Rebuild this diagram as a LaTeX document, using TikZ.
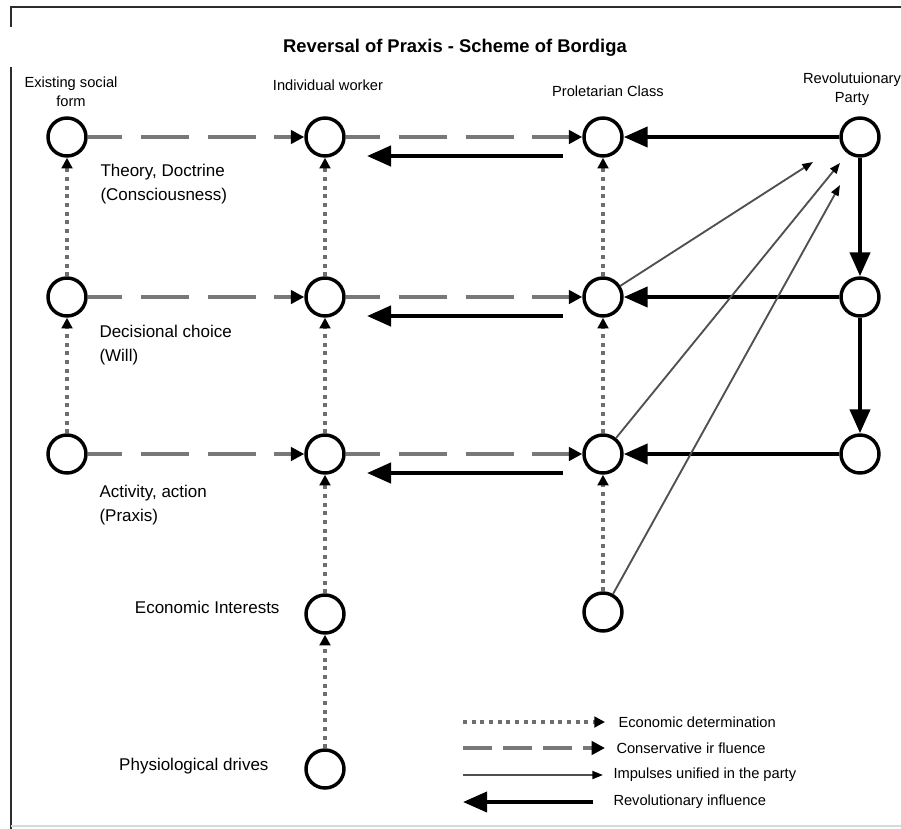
\documentclass[tikz,border=0pt]{standalone}
\usepackage{fontspec}
\setmainfont{Liberation Sans}
\usetikzlibrary{arrows.meta,calc}

\definecolor{econgray}{RGB}{110,110,110}
\definecolor{consgray}{RGB}{120,120,120}
\definecolor{impgray}{RGB}{80,80,80}
\definecolor{framegray}{RGB}{45,45,45}

\tikzset{every picture/.style={line width=0.75pt}}
\tikzset{
  stage/.style={circle, draw=black, line width=2.6pt, minimum size=28.5pt, inner sep=0pt},
  econ/.style={draw=econgray, line width=2.8pt, dash pattern=on 3pt off 3.5pt,
    -{Triangle[length=8pt,width=8pt,color=black]}},
  cons/.style={draw=consgray, line width=2.8pt, dash pattern=on 36pt off 14pt, dash phase=10pt,
    -{Triangle[length=10pt,width=10pt,color=black]}},
  impulse/.style={draw=impgray, line width=1.4pt, -{Triangle[length=8pt,width=6pt,color=black]}},
  revol/.style={draw=black, line width=3.2pt, -{Triangle[length=18pt,width=15pt]}},
  header/.style={font=\fontsize{11}{14.5}\selectfont, align=center, inner sep=0.75pt},
  level/.style={font=\fontsize{12.75}{18}\selectfont, align=left, inner sep=0.75pt},
  legendtext/.style={font=\fontsize{11}{13}\selectfont, anchor=west, inner sep=0.75pt}
}

\begin{document}
\begin{tikzpicture}[x=0.75pt,y=0.75pt,yscale=-1,xscale=1]
\useasboundingbox (0,0) rectangle (901,829);

%Frame
\draw [framegray, line width=2pt] (11,27) -- (11,7) -- (901,7) ;
\draw [framegray, line width=2pt] (11,67) -- (11,829) ;
\draw [black!15, line width=1pt] (11,826) -- (901,826) ;

% Title
\node (title) at (455,48) [font=\fontsize{13.8}{16}\selectfont\bfseries] {Reversal of Praxis - Scheme of Bordiga};

% Column headers
\node (hsf) at (71,92) [header] {Existing social\\form};
\node (hiw) at (328,85) [header] {Individual worker};
\node (hpc) at (608,91) [header] {Proletarian Class};
\node (hrp) at (852,89) [header] {Revolutuionary\\Party};

%Existing social form
\node (sf1) at (67,137) [stage] {};
\node (sf2) at (67,297) [stage] {};
\node (sf3) at (67,454) [stage] {};
%Individual worker
\node (iw1) at (325,137) [stage] {};
\node (iw2) at (325,297) [stage] {};
\node (iw3) at (325,454) [stage] {};
\node (iw4) at (325,614) [stage] {};
\node (iw5) at (325,769) [stage] {};
%Proletarian class
\node (pc1) at (603,137) [stage] {};
\node (pc2) at (603,297) [stage] {};
\node (pc3) at (603,454) [stage] {};
\node (pc4) at (603,612) [stage] {};
%Revolutionary party
\node (rp1) at (860,137) [stage] {};
\node (rp2) at (860,297) [stage] {};
\node (rp3) at (860,454) [stage] {};

% Level labels
\node (lth) at (99,184) [level, anchor=west] {Theory, Doctrine\\(Consciousness)};
\node (ldc) at (98,345) [level, anchor=west] {Decisional choice\\(Will)};
\node (lac) at (98,505) [level, anchor=west] {Activity, action\\(Praxis)};
\node (lei) at (281,607) [level, anchor=east] {Economic Interests};
\node (lpd) at (270,766) [level, anchor=east] {Physiological drives};

%Economic determination
\draw [econ] (sf3) -- (sf2) ;
\draw [econ] (sf2) -- (sf1) ;
\draw [econ] (iw5) -- (iw4) ;
\draw [econ] (iw4) -- (iw3) ;
\draw [econ] (iw3) -- (iw2) ;
\draw [econ] (iw2) -- (iw1) ;
\draw [econ] (pc4) -- (pc3) ;
\draw [econ] (pc3) -- (pc2) ;
\draw [econ] (pc2) -- (pc1) ;

%Conservative influence
\draw [cons] (sf1) -- (iw1) ;
\draw [cons] (sf2) -- (iw2) ;
\draw [cons] (sf3) -- (iw3) ;
\draw [cons] (iw1) -- (pc1) ;
\draw [cons] (iw2) -- (pc2) ;
\draw [cons] (iw3) -- (pc3) ;

%Revolutionary influence
\draw [revol] (rp1) -- (pc1) ;
\draw [revol] (rp2) -- (pc2) ;
\draw [revol] (rp3) -- (pc3) ;
\draw [revol] (rp1) -- (rp2) ;
\draw [revol] (rp2) -- (rp3) ;
\draw [revol] ($(pc1)+(-40,19)$) -- ($(iw1)+(42,19)$) ;
\draw [revol] ($(pc2)+(-40,19)$) -- ($(iw2)+(42,19)$) ;
\draw [revol] ($(pc3)+(-40,19)$) -- ($(iw3)+(42,19)$) ;

%Impulses unified in the party
\coordinate (imp1) at ($(rp1)+(-47,25)$);
\coordinate (imp2) at ($(rp1)+(-20,26)$);
\coordinate (imp3) at ($(rp1)+(-20,48)$);
\draw [impulse] (pc2) -- (imp1) ;
\draw [impulse] (pc3) -- (imp2) ;
\draw [impulse] (pc4) -- (imp3) ;

% Legend
\coordinate (lg1a) at (463,722); \coordinate (lg1b) at (605,722);
\coordinate (lg2a) at (463,748); \coordinate (lg2b) at (605,748);
\coordinate (lg3a) at (463,775); \coordinate (lg3b) at (603,775);
\coordinate (lg4a) at (593,802); \coordinate (lg4b) at (463,802);
\draw [econ] (lg1a) -- (lg1b) ;
\draw [cons, dash pattern=on 22pt off 8pt, dash phase=0pt] (lg2a) -- (lg2b) ;
\draw [impulse] (lg3a) -- (lg3b) ;
\draw [revol, line width=2.8pt] (lg4a) -- (lg4b) ;
\node (t1) at (617,722) [legendtext] {Economic determination};
\node (t2) at (615,748) [legendtext] {Conservative ir fluence};
\node (t3) at (612,775) [legendtext] {Impulses unified in the party};
\node (t4) at (612,802) [legendtext] {Revolutionary influence};

\end{tikzpicture}
\end{document}
